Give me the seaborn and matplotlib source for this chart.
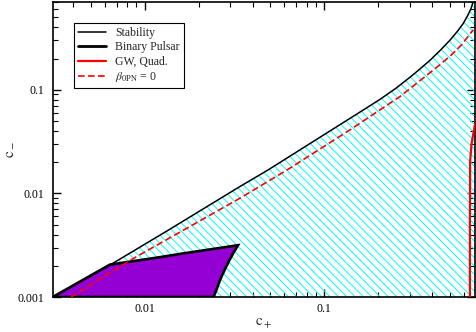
import matplotlib
matplotlib.use('Agg')
import matplotlib.pyplot as plt
import seaborn as sns
from matplotlib.lines import Line2D
from matplotlib.ticker import NullFormatter

# Werte (c_+, c_-)
stab_x = [0.00308, 0.0064, 0.0135, 0.0338, 0.0486, 0.1006, 0.15, 0.2037, 0.25, 0.30, 0.34, 0.387,
          0.44, 0.50, 0.55, 0.593, 0.63, 0.655, 0.675]
stab_y = [0.00100, 0.00203, 0.0044, 0.0116, 0.0168, 0.0372, 0.0575, 0.0805, 0.103, 0.132, 0.158, 0.192,
          0.238, 0.300, 0.365, 0.435, 0.525, 0.605, 0.71]

dash_x = [0.0039, 0.0083, 0.034, 0.062, 0.139, 0.264, 0.44, 0.51, 0.58, 0.675]
dash_y = [0.0010, 0.00226, 0.0090, 0.0168, 0.041, 0.086, 0.174, 0.217, 0.270, 0.379]

gw_x = [0.6465, 0.6465, 0.648, 0.66, 0.681, 0.70]
gw_y = [0.001, 0.005, 0.0202, 0.030, 0.0409, 0.0534]

bp_x = [0.00308, 0.0064, 0.0121, 0.0163, 0.0251, 0.0331, 0.0314, 0.0297, 0.0282, 0.0268,
        0.0258, 0.0250, 0.0242]
bp_y = [0.00100, 0.00205, 0.00242, 0.00263, 0.00294, 0.00316, 0.00272, 0.00228, 0.00190, 0.00158,
        0.00134, 0.00115, 0.00100]

x_lim = (0.00309, 0.69)
y_lim = (0.001, 0.71)
x_major = [0.01, 0.1]
x_major_labels = ['0.01', '0.1']
y_major = [0.001, 0.01, 0.1]
y_major_labels = ['0.001', '0.01', '0.1']
legend_labels = ['Stability', 'Binary Pulsar', 'GW, Quad.', r'$\beta_{0\mathrm{PN}}$ = 0']

sns.set_style('ticks')
plt.rcParams['font.family'] = ['Liberation Serif', 'DejaVu Serif']
plt.rcParams['mathtext.fontset'] = 'stix'
plt.rcParams['hatch.color'] = 'cyan'
plt.rcParams['hatch.linewidth'] = 0.7

fig = plt.figure(figsize=(4.77, 3.32), dpi=100)
ax = fig.add_axes([53 / 477, 1 - 297 / 332, 422 / 477, 295.5 / 332])
ax.set_xscale('log')
ax.set_yscale('log')

# schraffierter Bereich unter der Stabilitaetskurve
ax.fill_between(stab_x + [x_lim[1]], y_lim[0], stab_y + [y_lim[1]],
                facecolor='none', edgecolor='cyan', hatch='\\\\\\\\', linewidth=0, zorder=1)

# Binary Pulsar Gebiet
ax.fill(bp_x, bp_y, facecolor='#9400d3', edgecolor='black', linewidth=1.9, zorder=2)

sns.lineplot(x=stab_x, y=stab_y, estimator=None, sort=False, color='black', lw=1.1, ax=ax, zorder=3)
sns.lineplot(x=dash_x, y=dash_y, estimator=None, sort=False, color='red', lw=1.2,
             linestyle=(0, (4, 2)), ax=ax, zorder=4)
sns.lineplot(x=gw_x, y=gw_y, estimator=None, sort=False, color='red', lw=1.6, ax=ax, zorder=4)

ax.set_xticks(x_major, labels=x_major_labels)
ax.set_yticks(y_major, labels=y_major_labels)
ax.xaxis.set_minor_formatter(NullFormatter())
ax.yaxis.set_minor_formatter(NullFormatter())
ax.set_xlim(*x_lim)
ax.set_ylim(*y_lim)

ax.tick_params(which='both', direction='in', top=True, right=True, labelsize=8.5, colors='black')
ax.tick_params(which='major', length=6, width=1.0)
ax.tick_params(which='minor', length=3.6, width=0.8)
ax.tick_params(axis='x', pad=4)
ax.tick_params(axis='y', pad=6)
for s in ax.spines.values():
    s.set_linewidth(1.2)
    s.set_color('black')

ax.set_xlabel(r'$\mathrm{c}_+$', fontsize=11, labelpad=2)
ax.set_ylabel(r'$\mathrm{c}_-$', fontsize=11, labelpad=2)

handles = [Line2D([], [], color='black', lw=1.1),
           Line2D([], [], color='black', lw=2.0),
           Line2D([], [], color='red', lw=1.6),
           Line2D([], [], color='red', lw=1.2, ls=(0, (4, 2)))]
leg = ax.legend(handles, legend_labels, loc='upper left', bbox_to_anchor=(21 / 422, 1 - 21.5 / 295.5),
                fontsize=8.5, frameon=True, fancybox=False, framealpha=1, edgecolor='black',
                handlelength=2.4, handletextpad=0.75, labelspacing=0.2, borderpad=0.35, borderaxespad=0)
leg.get_frame().set_linewidth(0.8)

fig.savefig('out.png', dpi=100)
